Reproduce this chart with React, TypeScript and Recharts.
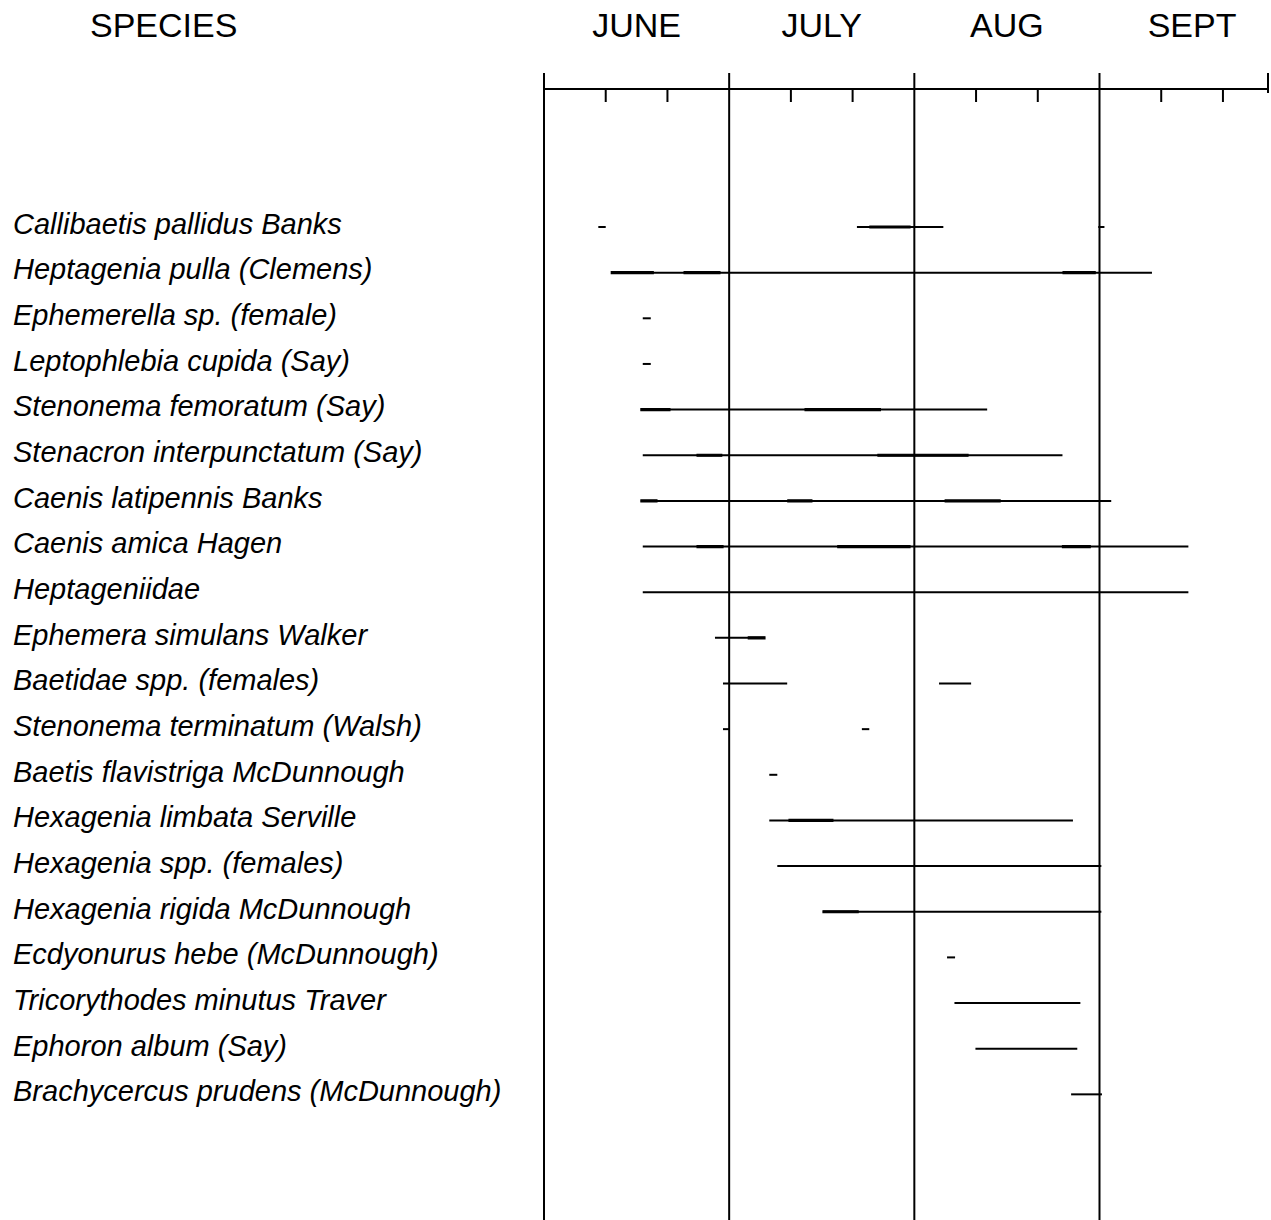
import React from "react";
import { ComposedChart, Bar, XAxis, YAxis, ReferenceLine } from "recharts";

// days counted from 1 June, every month drawn 30 days wide
const AXIS_END = 117.3;
const monthNames = ["JUNE", "JULY", "AUG", "SEPT"];
const monthStarts = [0, 30, 60, 90];
const monthMids = [15, 45, 75, 105];
const dayTicks = [10, 20, 40, 50, 70, 80, 100, 110];

const species = [
  "Callibaetis pallidus Banks",
  "Heptagenia pulla (Clemens)",
  "Ephemerella sp. (female)",
  "Leptophlebia cupida (Say)",
  "Stenonema femoratum (Say)",
  "Stenacron interpunctatum (Say)",
  "Caenis latipennis Banks",
  "Caenis amica Hagen",
  "Heptageniidae",
  "Ephemera simulans Walker",
  "Baetidae spp. (females)",
  "Stenonema terminatum (Walsh)",
  "Baetis flavistriga McDunnough",
  "Hexagenia limbata Serville",
  "Hexagenia spp. (females)",
  "Hexagenia rigida McDunnough",
  "Ecdyonurus hebe (McDunnough)",
  "Tricorythodes minutus Traver",
  "Ephoron album (Say)",
  "Brachycercus prudens (McDunnough)",
];

// flight periods (start day, end day) for each species
const flightPeriods: [number, number][][] = [
  [[8.8, 10.0], [50.7, 64.7], [89.8, 90.8]],
  [[10.9, 98.5]],
  [[16.0, 17.3]],
  [[16.0, 17.3]],
  [[15.7, 71.8]],
  [[16.0, 84.0]],
  [[15.7, 91.9]],
  [[16.0, 104.4]],
  [[16.0, 104.4]],
  [[27.7, 35.8]],
  [[29.0, 39.4], [64.0, 69.2]],
  [[29.0, 30.0], [51.5, 52.7]],
  [[36.5, 37.8]],
  [[36.5, 85.7]],
  [[37.8, 90.3]],
  [[45.2, 90.3]],
  [[65.3, 66.6]],
  [[66.5, 86.9]],
  [[69.9, 86.4]],
  [[85.4, 90.4]],
];

// heavier inked stretches of the same lines
const heavyPeriods: [number, number][][] = [
  [[52.8, 59.3]],
  [[10.9, 17.7], [22.7, 28.5], [84.1, 89.3]],
  [],
  [],
  [[15.7, 20.4], [42.3, 54.5]],
  [[24.8, 28.8], [54.1, 68.7]],
  [[15.7, 18.3], [39.5, 43.4], [65.0, 73.9]],
  [[24.8, 29.0], [47.6, 59.3], [84.0, 88.5]],
  [],
  [[33.1, 35.8]],
  [],
  [],
  [],
  [[39.7, 46.8]],
  [],
  [[45.2, 50.9]],
  [],
  [],
  [],
  [],
];

const data = species.map((name, i) => ({
  name,
  p0: flightPeriods[i][0] ?? null,
  p1: flightPeriods[i][1] ?? null,
  p2: flightPeriods[i][2] ?? null,
  h0: heavyPeriods[i][0] ?? null,
  h1: heavyPeriods[i][1] ?? null,
  h2: heavyPeriods[i][2] ?? null,
}));

const axisTicks = [...monthStarts, ...monthMids, ...dayTicks, AXIS_END].sort((a, b) => a - b);

const FONT = "'Liberation Sans', Arial, Helvetica, sans-serif";

const DayTick = (props: any) => {
  const { x, y, payload } = props;
  const v = payload.value;
  const mid = monthMids.indexOf(v);
  if (mid >= 0) {
    return (
      <text x={x} y={y - 52} textAnchor="middle" fontSize={34} fontFamily={FONT} fill="#000">
        {monthNames[mid]}
      </text>
    );
  }
  if (monthStarts.includes(v) || v === AXIS_END) {
    return <line x1={x} x2={x} y1={y - 16} y2={v === AXIS_END ? y + 4 : y} stroke="#000" strokeWidth={2} />;
  }
  return <line x1={x} x2={x} y1={y} y2={y + 13} stroke="#000" strokeWidth={2} />;
};

const SpeciesTick = (props: any) => {
  const { y, payload } = props;
  return (
    <text x={13} y={y} dy={7} fontSize={29} fontStyle="italic" fontFamily={FONT} fill="#000">
      {payload.value}
    </text>
  );
};

export default function App() {
  return (
    <div style={{ position: "absolute", left: 0, top: 0, width: 1271, height: 1220, background: "#fff" }}>
      <div
        style={{
          position: "absolute",
          left: 90,
          top: 8,
          fontFamily: FONT,
          fontSize: 34,
          lineHeight: "34px",
          color: "#000",
        }}
      >
        SPECIES
      </div>
      <ComposedChart
        width={1271}
        height={1220}
        data={data}
        layout="vertical"
        margin={{ top: 0, right: 3, bottom: 0, left: 0 }}
        barGap={-2}
      >
        <XAxis
          type="number"
          orientation="top"
          domain={[0, AXIS_END]}
          ticks={axisTicks}
          interval={0}
          height={89}
          tickSize={0}
          tickMargin={0}
          tickLine={false}
          axisLine={{ stroke: "#000", strokeWidth: 2 }}
          tick={<DayTick />}
          allowDataOverflow
        />
        <YAxis
          type="category"
          dataKey="name"
          width={544}
          interval={0}
          axisLine={false}
          tickLine={false}
          tick={<SpeciesTick />}
          padding={{ top: 115, bottom: 103 }}
        />
        {monthStarts.map((m) => (
          <ReferenceLine key={m} x={m} stroke="#000" strokeWidth={2} />
        ))}
        <Bar dataKey="p0" fill="#000" barSize={2} isAnimationActive={false} />
        <Bar dataKey="p1" fill="#000" barSize={2} isAnimationActive={false} />
        <Bar dataKey="p2" fill="#000" barSize={2} isAnimationActive={false} />
        <Bar dataKey="h0" fill="#000" stroke="#000" strokeWidth={1.2} barSize={2} isAnimationActive={false} />
        <Bar dataKey="h1" fill="#000" stroke="#000" strokeWidth={1.2} barSize={2} isAnimationActive={false} />
        <Bar dataKey="h2" fill="#000" stroke="#000" strokeWidth={1.2} barSize={2} isAnimationActive={false} />
      </ComposedChart>
    </div>
  );
}
